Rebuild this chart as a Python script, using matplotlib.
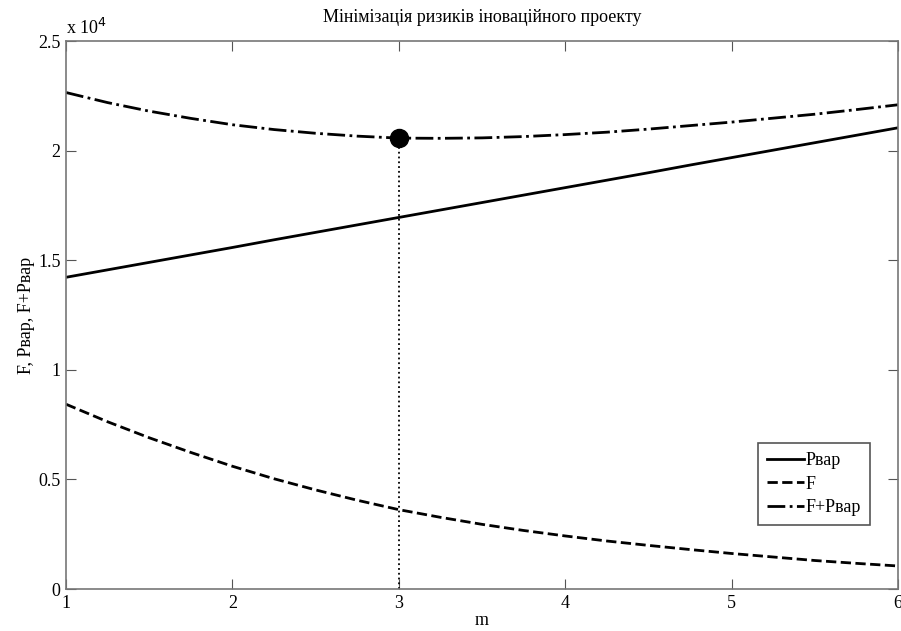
import numpy as np
import matplotlib
matplotlib.use("Agg")
import matplotlib.pyplot as plt

plt.rcParams['font.family'] = ['Liberation Serif', 'DejaVu Serif']

# m values and curves (units of 1e4)
m = np.array([1.0, 1.25, 1.5, 1.75, 2.0, 2.25, 2.5, 2.75, 3.0, 3.25, 3.5,
              3.75, 4.0, 4.25, 4.5, 4.75, 5.0, 5.25, 5.5, 5.75, 6.0])
Pvar = np.array([1.422, 1.456, 1.490, 1.524, 1.558, 1.593, 1.627, 1.661, 1.695, 1.729, 1.763,
                 1.797, 1.831, 1.865, 1.899, 1.934, 1.968, 2.002, 2.036, 2.070, 2.104]) * 1e4
F = np.array([0.843, 0.763, 0.690, 0.623, 0.560, 0.503, 0.452, 0.405, 0.362, 0.327, 0.295,
              0.267, 0.242, 0.219, 0.199, 0.180, 0.162, 0.146, 0.130, 0.117, 0.105]) * 1e4
total = F + Pvar

m_opt = 3.0
i_opt = int(np.argmin(np.abs(m - m_opt)))

fig = plt.figure(figsize=(9.01, 6.31), dpi=100, facecolor='w')
ax = fig.add_axes([66/901, 42/631, 832/901, 548/631])

ax.plot(m, Pvar, 'k-', lw=2, label='Рвар')
ax.plot(m, F, 'k--', lw=2, label='F')
ax.plot(m, total, 'k-.', lw=2, label='F+Рвар')
ax.plot([m_opt, m_opt], [0, total[i_opt]], 'k:', lw=1.3)
ax.plot(m_opt, total[i_opt], 'ko', ms=13)

ax.set_xlim(1, 6)
ax.set_ylim(0, 2.5e4)
ax.set_xticks([1, 2, 3, 4, 5, 6])
ax.set_yticks([0, 0.5e4, 1e4, 1.5e4, 2e4, 2.5e4])
ax.set_yticklabels(['0', '0.5', '1', '1.5', '2', '2.5'])
ax.tick_params(direction='in', top=True, right=True, length=7, labelsize=13,
               color='#555555', pad=4)
for spine in ax.spines.values():
    spine.set_color('#777777')
    spine.set_linewidth(1.2)

ax.set_title('Мінімізація ризиків іноваційного проекту', fontsize=13, pad=14)
ax.set_xlabel('m', fontsize=13, labelpad=0)
ax.set_ylabel('F, Рвар, F+Рвар', fontsize=13, labelpad=2)
fig.text(66/901, 1 - 28/631, r'x 10$^4$', fontsize=13, va='center')

leg = ax.legend(loc='lower right', bbox_to_anchor=(0.966, 0.117), borderaxespad=0,
                fontsize=13, fancybox=False, edgecolor='#555555', framealpha=1,
                handlelength=2.0, handletextpad=0.1, borderpad=0.5, labelspacing=0.35)
leg.get_frame().set_linewidth(1.2)

fig.savefig('out.png', dpi=100)
